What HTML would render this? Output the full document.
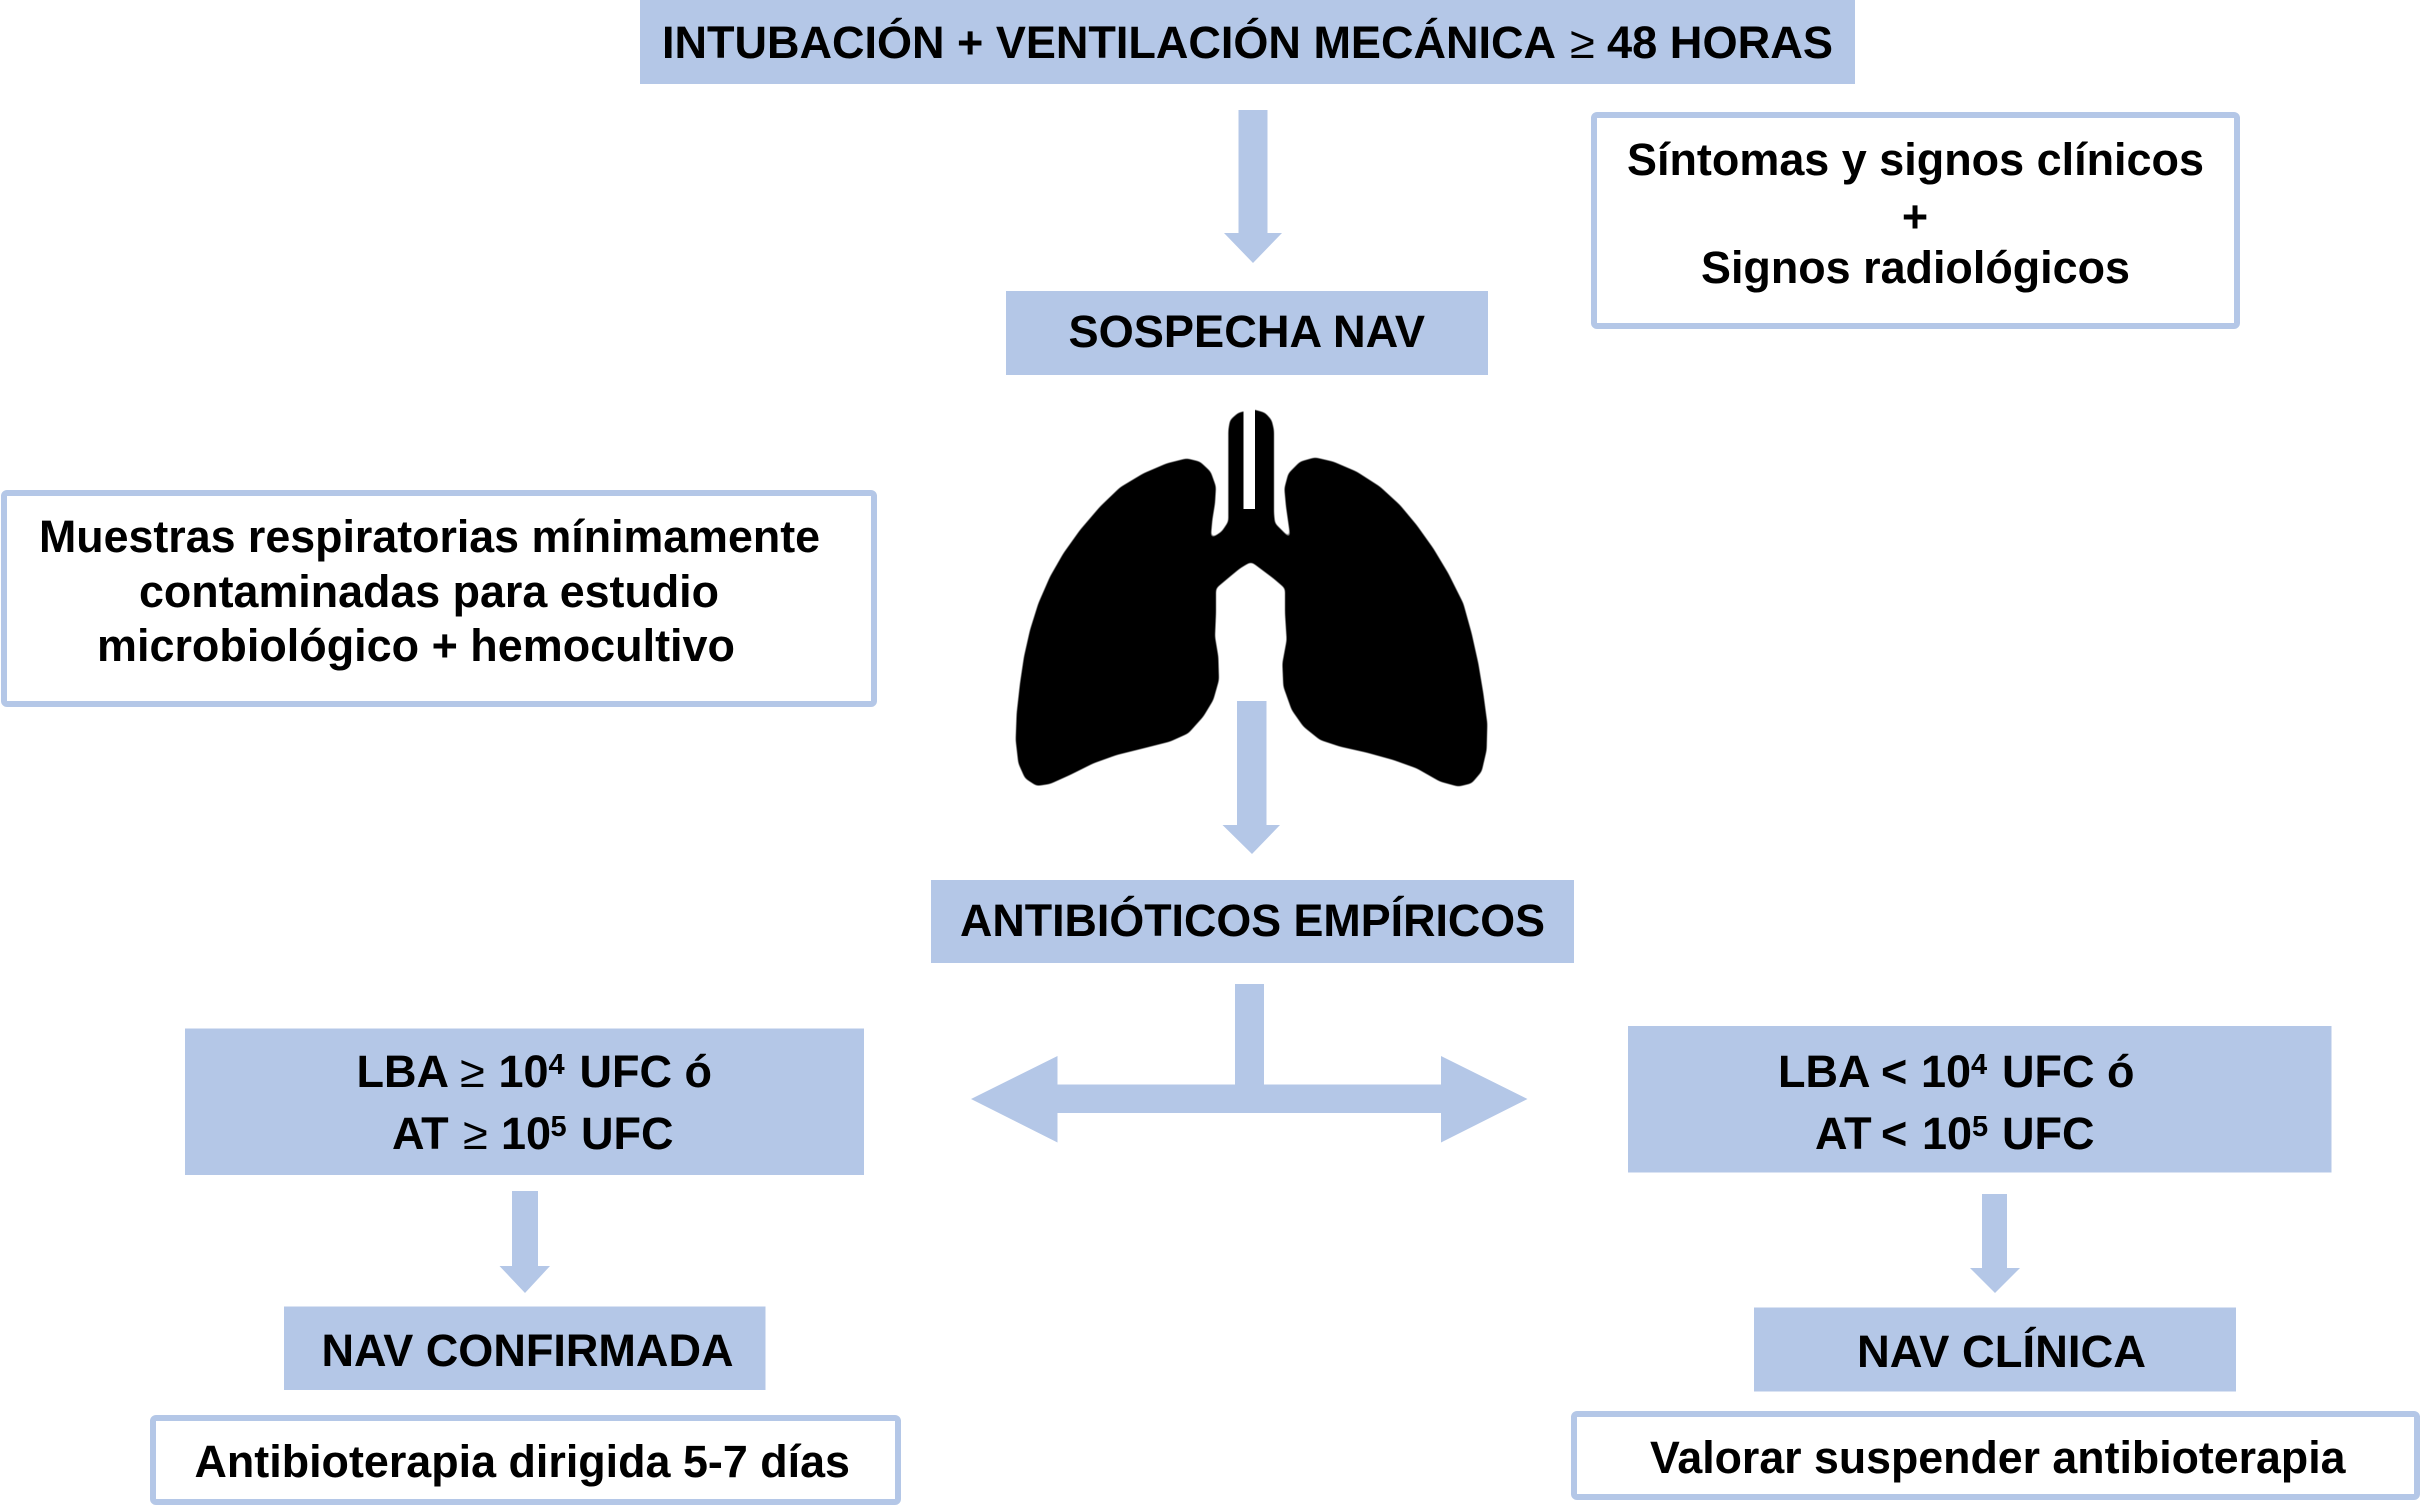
<!DOCTYPE html>
<html><head><meta charset="utf-8"><style>
html,body{margin:0;padding:0;background:#fff;width:2420px;height:1505px;overflow:hidden}
svg{display:block}
text{font-family:"Liberation Sans",Arial,sans-serif;font-weight:700;font-size:45px;fill:#000}
.r{font-weight:400}
.s{font-size:29px}
</style></head><body>
<svg width="2420" height="1505" viewBox="0 0 2420 1505" xmlns="http://www.w3.org/2000/svg">
<defs><filter id="b" x="-5%" y="-5%" width="110%" height="110%"><feGaussianBlur stdDeviation="2.5"/><feComponentTransfer><feFuncA type="linear" slope="4" intercept="-1.5"/></feComponentTransfer></filter></defs>
<g fill="#b4c7e7">
<rect x="640" y="0" width="1215" height="84"/>
<rect x="1006" y="291" width="482" height="84"/>
<rect x="931" y="880" width="643" height="83"/>
<rect x="185" y="1028.5" width="679" height="146.5"/>
<rect x="1628" y="1026" width="703.5" height="146.5"/>
<rect x="284" y="1306.5" width="481.5" height="83.5"/>
<rect x="1754" y="1307.5" width="482" height="84"/>
<polygon points="1238.5,110 1267.5,110 1267.5,233 1282,233 1253,263 1224,233 1238.5,233"/>
<polygon points="971,1099 1057.5,1056 1057.5,1084.5 1235,1084.5 1235,984 1264,984 1264,1084.5 1441,1084.5 1441,1056 1527.5,1099 1441,1142.5 1441,1113 1057.5,1113 1057.5,1142.5"/>
<polygon points="512,1191 538,1191 538,1266 550,1266 525,1293 499.5,1266 512,1266"/>
<polygon points="1982,1194 2007,1194 2007,1268 2020,1268 1995,1293 1970,1268 1982,1268"/>
</g>
<g fill="#fff" stroke="#b4c7e7" stroke-width="6">
<rect x="1594" y="115" width="643" height="211" rx="3"/>
<rect x="4" y="493" width="870" height="211" rx="3"/>
<rect x="153" y="1418" width="745" height="84" rx="3"/>
<rect x="1574" y="1414" width="843" height="83" rx="3"/>
</g>
<g filter="url(#b)">
<polygon fill="#000" transform="translate(1000,400) scale(0.33333)" points="560,175 600,185 632,215 648,260 645,310 637,360 632,416 665,395 685,365 685,90 690,60 715,38 760,28 760,487 750,487 720,505 690,530 648,565 648,640 645,710 655,770 657,840 640,900 610,950 565,1000 510,1025 430,1045 350,1065 280,1090 210,1125 150,1152 110,1158 75,1135 55,1090 47,1020 50,940 60,850 72,770 90,690 115,610 150,530 190,460 240,390 300,320 360,262 430,220 500,190"/>
<polygon fill="#000" transform="translate(1250,400) scale(0.33333)" points="195,172 150,185 115,220 103,265 108,320 122,418 100,395 75,370 72,340 72,90 65,60 45,38 10,28 0,28 0,487 6,487 30,505 70,535 105,565 105,640 110,720 97,790 100,860 125,930 160,980 210,1020 270,1040 350,1058 430,1080 500,1105 570,1145 625,1160 665,1150 695,1115 710,1050 712,970 700,880 685,790 665,700 640,610 595,520 550,445 500,375 450,315 390,260 320,215 250,185"/>
</g>
<rect x="1243.5" y="400" width="11.5" height="109" fill="#fff"/>
<polygon fill="#b4c7e7" points="1237,701 1266.5,701 1266.5,825 1280,825 1252,854 1222.5,825 1237,825"/>
<text x="662" y="58" textLength="894" lengthAdjust="spacingAndGlyphs">INTUBACIÓN + VENTILACIÓN MECÁNICA</text>
<text x="1570" y="58" class="r">≥</text>
<text x="1607" y="58" textLength="226" lengthAdjust="spacingAndGlyphs">48 HORAS</text>
<text x="1068.5" y="347" textLength="356.5" lengthAdjust="spacingAndGlyphs">SOSPECHA NAV</text>
<text x="1627" y="175" textLength="577" lengthAdjust="spacingAndGlyphs">Síntomas y signos clínicos</text>
<text x="1915" y="232" text-anchor="middle">+</text>
<text x="1701" y="283" textLength="429" lengthAdjust="spacingAndGlyphs">Signos radiológicos</text>
<text x="39" y="552" textLength="781" lengthAdjust="spacingAndGlyphs">Muestras respiratorias mínimamente</text>
<text x="139" y="607" textLength="580" lengthAdjust="spacingAndGlyphs">contaminadas para estudio</text>
<text x="97" y="661" textLength="638" lengthAdjust="spacingAndGlyphs">microbiológico + hemocultivo</text>
<text x="960" y="936" textLength="585" lengthAdjust="spacingAndGlyphs">ANTIBIÓTICOS EMPÍRICOS</text>
<text y="1087"><tspan x="356.5">LBA</tspan> <tspan x="460" class="r">≥</tspan> <tspan x="498.5">10</tspan><tspan x="548.5" y="1074" class="s">4</tspan> <tspan x="579.5" y="1087">UFC ó</tspan></text>
<text y="1149"><tspan x="392">AT</tspan> <tspan x="463" class="r">≥</tspan> <tspan x="501">10</tspan><tspan x="550.5" y="1136" class="s">5</tspan> <tspan x="581" y="1149">UFC</tspan></text>
<text y="1087"><tspan x="1778">LBA</tspan> <tspan x="1881">&lt;</tspan> <tspan x="1921">10</tspan><tspan x="1971" y="1074" class="s">4</tspan> <tspan x="2002" y="1087">UFC ó</tspan></text>
<text y="1149"><tspan x="1815">AT</tspan> <tspan x="1881">&lt;</tspan> <tspan x="1922">10</tspan><tspan x="1972" y="1136" class="s">5</tspan> <tspan x="2002" y="1149">UFC</tspan></text>
<text x="321.5" y="1366" textLength="412" lengthAdjust="spacingAndGlyphs">NAV CONFIRMADA</text>
<text x="1857" y="1367" textLength="289" lengthAdjust="spacingAndGlyphs">NAV CLÍNICA</text>
<text x="194.5" y="1477" textLength="655.5" lengthAdjust="spacingAndGlyphs">Antibioterapia dirigida 5-7 días</text>
<text x="1650" y="1473" textLength="695.5" lengthAdjust="spacingAndGlyphs">Valorar suspender antibioterapia</text>
</svg>
</body></html>
